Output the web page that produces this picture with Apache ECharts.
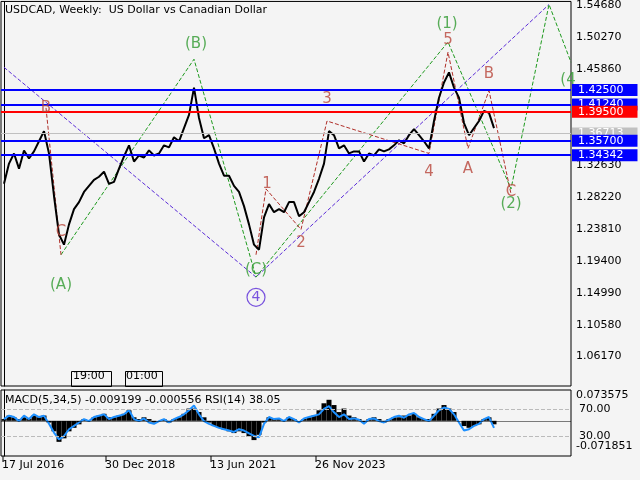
<!DOCTYPE html>
<html>
<head>
<meta charset="UTF-8">
<script src="https://cdn.jsdelivr.net/npm/echarts@6/dist/echarts.min.js"></script>
<style>html,body{margin:0;padding:0;background:#f4f4f4}#c{width:640px;height:480px}</style>
</head>
<body>
<div id="c"></div>
<script>
// weekly closes sampled every 6 weeks from 17 Jul 2016
var closes = [1.3004,1.3284,1.3424,1.3214,1.3466,1.3354,1.3452,1.3592,1.3732,1.3424,
  1.2836,1.2304,1.2164,1.2444,1.2654,1.2752,1.2892,1.2976,1.3060,1.3102,
  1.3172,1.3004,1.3032,1.3214,1.3382,1.3536,1.3312,1.3396,1.3368,1.3466,
  1.3396,1.3424,1.3536,1.3508,1.3648,1.3592,1.3774,1.3956,1.4334,1.3914,
  1.3634,1.3676,1.3494,1.3284,1.3116,1.3116,1.2976,1.2892,1.2696,1.2444,
  1.2164,1.2094,1.2542,1.2724,1.2612,1.2654,1.2612,1.2752,1.2752,1.2556,
  1.2612,1.2752,1.2892,1.3074,1.3284,1.3732,1.3676,1.3494,1.3536,1.3424,
  1.3452,1.3452,1.3312,1.3424,1.3396,1.3480,1.3452,1.3480,1.3536,1.3606,
  1.3564,1.3676,1.3760,1.3676,1.3592,1.3494,1.3872,1.4194,1.4404,1.4544,
  1.4334,1.4194,1.3844,1.3676,1.3774,1.3872,1.4012,1.3984,1.3774];
var macdHist = [0.005,0.015,0.01,0.005,0.01,0.005,0.015,0.01,0.015,-0.005,
  -0.03,-0.06,-0.05,-0.03,-0.02,-0.01,0.005,0.0,0.01,0.015,
  0.02,0.01,0.01,0.015,0.02,0.03,0.01,0.005,0.01,0.005,
  -0.005,0.0,0.005,-0.005,0.005,0.01,0.02,0.035,0.035,0.025,
  0.01,-0.005,-0.015,-0.02,-0.025,-0.03,-0.035,-0.03,-0.035,-0.045,
  -0.055,-0.04,-0.005,0.01,0.005,0.005,0.0,0.01,0.005,0.0,
  0.005,0.01,0.015,0.03,0.05,0.06,0.045,0.025,0.035,0.015,
  0.01,0.005,-0.005,0.005,0.01,0.005,-0.005,0.005,0.01,0.01,
  0.015,0.015,0.02,0.01,0.005,0.005,0.02,0.035,0.045,0.035,
  0.025,0.0,-0.015,-0.02,-0.015,-0.01,0.005,0.01,-0.01];
var rsi = [55,60,58,52,60,55,62,58,60,48,35,25,30,40,45,50,55,52,58,60,
  62,55,58,60,62,68,55,52,56,50,48,52,55,50,55,58,62,68,75,62,
  52,48,45,42,40,38,36,40,38,34,30,28,48,58,55,56,52,58,55,50,
  56,58,60,62,70,74,65,58,62,55,56,54,48,55,56,52,50,54,58,60,
  57,62,64,58,55,52,60,68,72,70,62,50,38,40,45,48,55,58,42];
var priceTicks = [1.06170,1.10580,1.14990,1.19400,1.23810,1.28220,1.32630,1.45860,1.50270,1.54680];
var dateLabels = ['17 Jul 2016','30 Dec 2018','13 Jun 2021','26 Nov 2023'];
var dateIdx = [0, 20.6, 41.6, 62.6];
var levels = [
  {v:1.42500, c:'#0000ff', t:'1.42500'},
  {v:1.41240, c:'#0000ff', t:'1.41240'},
  {v:1.39500, c:'#ff0000', t:'1.39500'},
  {v:1.36713, c:'#c0c0c0', t:'1.36713'},
  {v:1.35700, c:'#0000ff', t:'1.35700'},
  {v:1.34342, c:'#0000ff', t:'1.34342'}
];
// wave paths [index, price]
var purpleWave = [[0,1.4614],[50.4,1.1716],[109,1.5482]];
var greenWave = [[11.4,1.2024],[38,1.4726],[50.4,1.1716],[88.8,1.4964],[101.4,1.2934],[109,1.5482],[113.4,1.4684]];
var redWave1 = [[8.4,1.4054],[11.4,1.2024]];
var redWave2 = [[50.4,1.2024],[52.4,1.2934],[59.4,1.2374],[64.6,1.3872],[85,1.3424],[88.8,1.4824],[92.8,1.3494],[97,1.4292],[101.4,1.2864]];
var greenLabels = [['(A)',11.4,1.16],['(B)',38.4,1.4936],['(C)',50.4,1.1814],['(1)',88.6,1.5216],['(2)',101.4,1.2724],['(4',112.8,1.4436]];
var redLabels = [['B',8.4,1.4054],['C',11.4,1.2332],['1',52.6,1.3004],['2',59.4,1.2192],['3',64.6,1.418],['4',85,1.3172],['5',88.8,1.4992],['A',92.8,1.3214],['B',97,1.4516],['C',101.4,1.2892]];

var chart = echarts.init(document.getElementById('c'));
var font = 'DejaVu Sans';
var xMax = 113.4;
function xa(gi){return {type:'value', gridIndex:gi, min:-0.6, max:xMax, show:false};}
function lbl(list, color){
  return {type:'scatter', xAxisIndex:0, yAxisIndex:0, symbolSize:0, silent:true, z:5,
    data:list.map(function(d){return {value:[d[1],d[2]], name:d[0]};}),
    label:{show:true, formatter:'{b}', color:color, fontFamily:font, fontSize:15, position:'inside'}};
}
function dashed(data, color, type){
  return {type:'line', data:data, symbol:'none', xAxisIndex:0, yAxisIndex:0, silent:true,
    lineStyle:{color:color, width:1, type:type||'dashed'}};
}
chart.setOption({
  backgroundColor:'#f4f4f4',
  animation:false,
  textStyle:{fontFamily:font},
  grid:[{left:1, right:69, top:1, height:385, show:true, borderColor:'#000', borderWidth:1},
        {left:1, right:69, top:390, height:66, show:true, borderColor:'#000', borderWidth:1}],
  xAxis:[xa(0), xa(1)],
  yAxis:[
    {type:'value', gridIndex:0, position:'right', min:1.0211, max:1.5524, splitLine:{show:false},
     axisLine:{show:true, lineStyle:{color:'#000'}}, axisTick:{show:false},
     axisLabel:{customValues:priceTicks, formatter:function(v){return v.toFixed(5);}, color:'#000', fontSize:11, margin:5}},
    {type:'value', gridIndex:1, position:'right', min:-0.1004, max:0.0879, splitLine:{show:false},
     axisLine:{show:true, lineStyle:{color:'#000'}}, axisTick:{show:false},
     axisLabel:{customValues:[0.073575,-0.071851], formatter:function(v){return v.toFixed(6);}, color:'#000', fontSize:11, margin:5}},
    {type:'value', gridIndex:1, position:'right', min:0.4, max:98, show:false}
  ],
  series:[
    {type:'line', data:closes.map(function(v,i){return [i,v];}), symbol:'none', xAxisIndex:0, yAxisIndex:0,
     lineStyle:{color:'#000', width:2}, z:4,
     markLine:{symbol:'none', silent:true,
       data:levels.map(function(l){return {yAxis:l.v, lineStyle:{color:l.c, width:l.c=='#c0c0c0'?1:2, type:'solid'},
         label:{show:true, position:'end', formatter:l.t, color:'#fff', backgroundColor:l.c, fontSize:11,
           padding:[1,14,0,6], distance:1}};})}},
    dashed(purpleWave, '#5a2bd8'),
    dashed(greenWave, '#1e9a1e'),
    dashed(redWave1, '#b0302a'),
    dashed(redWave2, '#b0302a'),
    lbl(greenLabels, '#2f9a2f'),
    lbl(redLabels, '#b8453a'),
    {type:'scatter', xAxisIndex:0, yAxisIndex:0, symbol:'circle', symbolSize:18, silent:true,
     itemStyle:{color:'transparent', borderColor:'#5a2bd8', borderWidth:1.2},
     data:[{value:[50.4,1.1436], name:'4'}],
     label:{show:true, formatter:'{b}', color:'#5a2bd8', fontSize:14, position:'inside'}},
    {type:'bar', data:macdHist.map(function(v,i){return [i,v];}), xAxisIndex:1, yAxisIndex:1, barWidth:5,
     itemStyle:{color:'#000'},
     markLine:{symbol:'none', silent:true, label:{show:false},
       data:[{yAxis:-0.0034, lineStyle:{color:'#000', width:0.5, type:'solid'}}]}},
    {type:'line', data:rsi.map(function(v,i){return [i,v];}), xAxisIndex:1, yAxisIndex:2, symbol:'none',
     lineStyle:{color:'#1e90ff', width:2},
     markLine:{symbol:'none', silent:true,
       data:[{yAxis:70},{yAxis:30}],
       lineStyle:{color:'#bbb', type:'dashed', width:1},
       label:{show:true, position:'end', formatter:function(p){return p.value.toFixed(2);}, color:'#000', fontSize:11, distance:8}}}
  ],
  graphic:[
    {type:'text', left:5, top:5, style:{text:'USDCAD, Weekly:  US Dollar vs Canadian Dollar', fill:'#000', font:'11px DejaVu Sans'}},
    {type:'text', left:5, top:395, style:{text:'MACD(5,34,5) -0.009199 -0.000556 RSI(14) 38.05', fill:'#000', font:'11px DejaVu Sans'}},
    {type:'rect', left:69, top:369, shape:{width:40, height:15}, style:{fill:'none', stroke:'#000'}},
    {type:'text', left:73, top:371, style:{text:'19:00', fill:'#000', font:'11px DejaVu Sans'}},
    {type:'rect', left:123, top:369, shape:{width:37, height:15}, style:{fill:'none', stroke:'#000'}},
    {type:'text', left:126, top:371, style:{text:'01:00', fill:'#000', font:'11px DejaVu Sans'}}
  ].concat(dateLabels.map(function(t,k){
    return {type:'group', children:[
      {type:'line', shape:{x1:3+dateIdx[k]*5, y1:456, x2:3+dateIdx[k]*5, y2:462}, style:{stroke:'#000'}},
      {type:'text', x:2+dateIdx[k]*5, y:460, style:{text:t, fill:'#000', font:'11px DejaVu Sans'}}]};
  }))
});
</script>
</body>
</html>
